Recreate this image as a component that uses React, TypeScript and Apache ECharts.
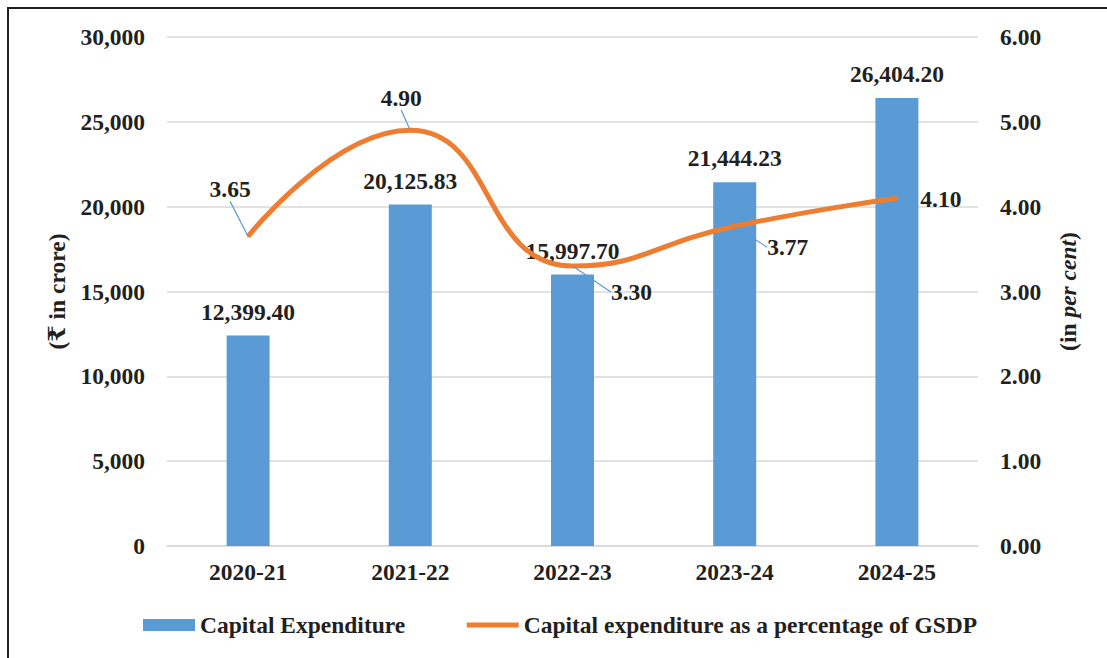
import React, { useEffect, useRef } from "react";
import * as echarts from "echarts";

const categories = ["2020-21", "2021-22", "2022-23", "2023-24", "2024-25"];
const capitalExpenditure = [12399.4, 20125.83, 15997.7, 21444.23, 26404.2];
const percentOfGSDP = [3.65, 4.9, 3.3, 3.77, 4.1];
const leftTicks = { min: 0, max: 30000, interval: 5000 };
const rightTicks = { min: 0, max: 6, interval: 1 };
const barName = "Capital Expenditure";
const lineName = "Capital expenditure as a percentage of GSDP";

// label offsets (layout only)
const lineLabelDx = [-18, -9, 59, 53, 44];
const lineLabelDy = [-47, -32, 26, 21, 1];

const FONT = "'Liberation Serif', 'Times New Roman', 'DejaVu Serif', serif";
const TEXT = "#231F20";
const FS = 23.5;

export default function App() {
  const ref = useRef<HTMLDivElement>(null);
  useEffect(() => {
    if (!ref.current) return;
    const chart = echarts.init(ref.current, undefined, { renderer: "svg" });
    const txt = { fontFamily: FONT, fontWeight: "bold" as const, fontSize: FS, color: TEXT };
    chart.setOption({
      animation: false,
      backgroundColor: "#ffffff",
      textStyle: { fontFamily: FONT },
      graphic: [
        {
          type: "rect",
          shape: { x: 8, y: 8, width: 1300, height: 1000 },
          style: { fill: "none", stroke: TEXT, lineWidth: 2 },
          silent: true,
          z: 100,
        },
      ],
      grid: { left: 167, right: 129, top: 37, bottom: 112 },
      legend: {
        left: 138,
        top: 608,
        itemWidth: 52,
        itemHeight: 12,
        itemGap: 59,
        textStyle: { ...txt },
        data: [
          { name: barName, icon: "rect" },
          {
            name: lineName,
            itemStyle: { color: "rgba(0,0,0,0)", borderWidth: 0 },
            lineStyle: { color: "#ED7D31", width: 5 },
          },
        ],
      },
      xAxis: {
        type: "category",
        data: categories,
        axisLine: { lineStyle: { color: "#D9D9D9", width: 1.5 } },
        axisTick: { show: false },
        axisLabel: { ...txt, margin: 14 },
      },
      yAxis: [
        {
          type: "value",
          min: leftTicks.min,
          max: leftTicks.max,
          interval: leftTicks.interval,
          name: "(₹ in crore)",
          nameLocation: "middle",
          nameRotate: 90,
          nameGap: 94,
          nameTextStyle: { ...txt },
          axisLine: { show: false },
          axisTick: { show: false },
          splitLine: { lineStyle: { color: "#D9D9D9", width: 1.5 } },
          axisLabel: {
            ...txt,
            margin: 22,
            formatter: (v: number) => v.toLocaleString("en-US"),
          },
        },
        {
          type: "value",
          min: rightTicks.min,
          max: rightTicks.max,
          interval: rightTicks.interval,
          name: "{a|(in }{b|per cent}{a|)}",
          nameLocation: "middle",
          nameRotate: 90,
          nameGap: 78,
          nameTextStyle: {
            ...txt,
            rich: {
              a: { ...txt },
              b: { ...txt, fontStyle: "italic" },
            },
          },
          axisLine: { show: false },
          axisTick: { show: false },
          splitLine: { show: false },
          axisLabel: {
            ...txt,
            margin: 22,
            formatter: (v: number) => v.toFixed(2),
          },
        },
      ],
      series: [
        {
          name: barName,
          type: "bar",
          yAxisIndex: 0,
          z: 2,
          data: capitalExpenditure,
          barWidth: 43,
          itemStyle: { color: "#5B9BD5" },
          label: {
            show: true,
            position: "top",
            distance: 12,
            ...txt,
            formatter: (p: any) =>
              Number(p.value).toLocaleString("en-US", {
                minimumFractionDigits: 2,
                maximumFractionDigits: 2,
              }),
          },
        },
        {
          name: lineName,
          type: "line",
          yAxisIndex: 1,
          z: 4,
          smooth: 0.5,
          symbol: "circle",
          symbolSize: 2,
          itemStyle: { color: "#ED7D31" },
          lineStyle: { color: "#ED7D31", width: 5 },
          data: percentOfGSDP.map((v, i) => ({
            value: v,
            labelLine: { show: i !== 4 },
          })),
          label: {
            show: true,
            position: "inside",
            ...txt,
            formatter: (p: any) => Number(p.value).toFixed(2),
          },
          labelLine: { show: true, lineStyle: { color: "#5B9BD5", width: 1.2 } },
          labelLayout: (params: any) => ({
            dx: lineLabelDx[params.dataIndex],
            dy: lineLabelDy[params.dataIndex],
          }),
        },
      ],
    });
    return () => chart.dispose();
  }, []);
  return (
    <div
      ref={ref}
      style={{ position: "fixed", left: 0, top: 0, width: 1107, height: 658 }}
    />
  );
}
